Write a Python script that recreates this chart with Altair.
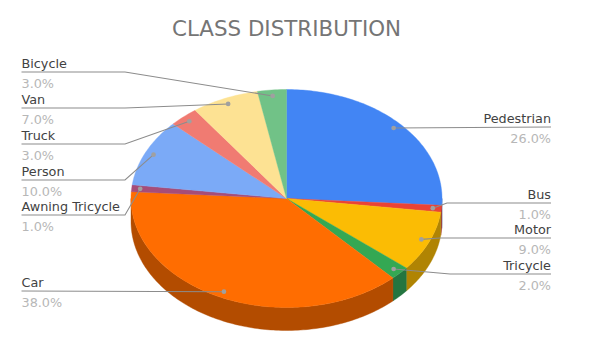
import math
import altair as alt

title_text = "CLASS DISTRIBUTION"
names = ["Pedestrian", "Bus", "Motor", "Tricycle", "Car", "Awning Tricycle", "Person", "Truck", "Van", "Bicycle"]
shares = [26, 1, 9, 2, 38, 1, 10, 3, 7, 3]
top_colors = ["#4285f4", "#ea4335", "#fbbc04", "#34a853", "#ff6d01", "#a64d79", "#7baaf7", "#f07b72", "#fde293", "#71c287"]
wall_colors = ["#2e5dab", "#a42f25", "#b08403", "#247540", "#b34c00", "#743655", "#5677ad", "#a8564f", "#b19e67", "#4f885f"]

# screen layout (page margin is 8px)
M = 8
CX, CY, RX, RY, DEPTH = 286.5 - M, 198.5 - M, 155.5, 109.0, 23.0
DOT_R = 0.945
LEFT_X, RIGHT_X, LEFT_ELBOW = 21.5 - M, 551 - M, 125 - M
# y of each leader's horizontal run, and x of its elbow
leader_y = [127, 203, 238, 274, 291, 215, 180, 144, 108, 72]
elbow_x = [None, 447, 440, 450, None, 125, 125, 125, 125, 125]


def pt(t, r=1.0, dy=0.0):
    return [CX + r * RX * math.sin(t), CY - r * RY * math.cos(t) + dy]


def arc_points(a, b, step=math.radians(1.0)):
    n = max(2, int(abs(b - a) / step) + 1)
    return [a + (b - a) * i / (n - 1) for i in range(n)]


def feature(ring, name, color):
    ring = ring + [ring[0]]
    return {"type": "Feature", "properties": {"name": name, "color": color},
            "geometry": {"type": "Polygon", "coordinates": [ring]}}


total = sum(shares)
tops, walls, leaders, dots, labels = [], [], [], [], []
cum = 0
for i, (nm, v) in enumerate(zip(names, shares)):
    a = cum / total * 2 * math.pi
    cum += v
    b = cum / total * 2 * math.pi
    mid = (a + b) / 2
    tops.append(feature([[CX, CY]] + [pt(t) for t in arc_points(a, b)], nm, top_colors[i]))
    lo, hi = max(a, math.pi / 2), min(b, 1.5 * math.pi)
    if hi > lo:
        ts = arc_points(lo, hi)
        walls.append(feature([pt(t) for t in ts] + [pt(t, dy=DEPTH) for t in reversed(ts)], nm, wall_colors[i]))
    dot = pt(mid, DOT_R)
    dots.append({"x": dot[0], "y": dot[1]})
    right = mid < math.pi
    y = leader_y[i] - M
    path = [dot]
    if elbow_x[i] is not None:
        path.append([elbow_x[i] - M, y])
    path.append([RIGHT_X if right else LEFT_X, y])
    for k, p in enumerate(path):
        leaders.append({"name": nm, "k": k, "x": p[0], "y": p[1] if k else dot[1]})
    tx = RIGHT_X if right else LEFT_X
    labels.append({"x": tx, "y": y - 4, "t": nm, "kind": "name", "align": "right" if right else "left"})
    labels.append({"x": tx, "y": y + 15.5, "t": f"{v:.1f}%", "kind": "share", "align": "right" if right else "left"})

X = lambda f="x": alt.X(f"{f}:Q", scale=None, axis=None)
Y = lambda f="y": alt.Y(f"{f}:Q", scale=None, axis=None)


def shapes(features):
    return alt.Chart(alt.Data(values=features)).mark_geoshape(strokeWidth=0.4).encode(
        fill=alt.Fill("properties.color:N", scale=None, legend=None),
        stroke=alt.Stroke("properties.color:N", scale=None, legend=None),
    ).project(type="identity", scale=1, translate=[0, 0])


wall_layer = shapes(walls)
top_layer = shapes(tops)
leader_layer = alt.Chart(alt.Data(values=leaders)).mark_line(color="#8c8c8c", strokeWidth=1.1).encode(
    x=X(), y=Y(), detail="name:N", order="k:Q")
dot_layer = alt.Chart(alt.Data(values=dots)).mark_circle(color="#a0a0a0", opacity=1, size=22).encode(x=X(), y=Y())


def text_layer(kind, align, color):
    rows = [r for r in labels if r["kind"] == kind and r["align"] == align]
    return alt.Chart(alt.Data(values=rows)).mark_text(
        font="DejaVu Sans", fontSize=12.8, align=align, baseline="alphabetic", color=color
    ).encode(x=X(), y=Y(), text="t:N")


title_layer = alt.Chart(alt.Data(values=[{"x": 286.5 - M, "y": 35.5 - M, "t": title_text}])).mark_text(
    font="DejaVu Sans", fontSize=21.4, align="center", baseline="alphabetic", color="#757575"
).encode(x=X(), y=Y(), text="t:N")

chart = alt.layer(
    wall_layer, top_layer, leader_layer, dot_layer,
    text_layer("name", "left", "#424242"), text_layer("name", "right", "#424242"),
    text_layer("share", "left", "#b7b7b7"), text_layer("share", "right", "#b7b7b7"),
    title_layer,
).properties(
    width=578, height=345, padding=0, background="white",
    autosize=alt.AutoSizeParams(type="none"),
).configure_view(stroke=None)

chart.save("out.html", embed_options={"renderer": "svg", "actions": False})
